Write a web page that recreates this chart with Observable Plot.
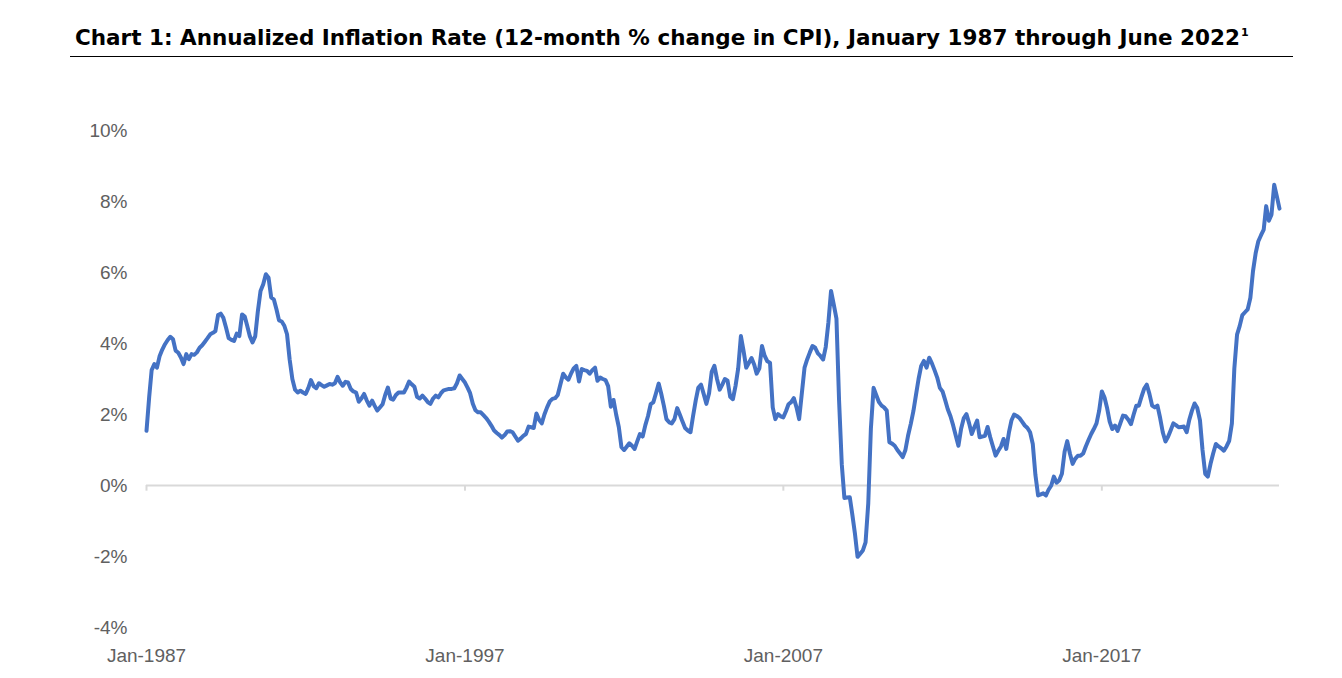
<!DOCTYPE html>
<html>
<head>
<meta charset="utf-8">
<script src="https://cdn.jsdelivr.net/npm/d3@7"></script>
<script src="https://cdn.jsdelivr.net/npm/@observablehq/plot@0.6"></script>
<style>
  html, body { margin: 0; padding: 0; background: #fff; }
  body { width: 1342px; height: 678px; position: relative; overflow: hidden; }
  #title {
    position: absolute; left: 75px; top: 25px;
    font-family: "DejaVu Sans", sans-serif; font-weight: bold;
    font-size: 21.5px; line-height: 26px; color: #000; white-space: nowrap;
  }
  #title sup { font-size: 11px; vertical-align: 0; position: relative; top: -9px; margin-left: 1px; }
  #rule { position: absolute; left: 70px; top: 56px; width: 1223px; height: 0; border-top: 1px solid #000; }
  #chart { position: absolute; left: 0; top: 60px; }
</style>
</head>
<body>
<div id="title">Chart 1: Annualized Inflation Rate (12-month % change in CPI), January 1987 through June 2022<sup>1</sup></div>
<div id="rule"></div>
<div id="chart"></div>
<script>
// First month of the series; one value per month after it
const startMonth = "1987-01-01";

// 12-month % change in CPI, monthly, one row per year (1987 onward)
const inflation = [
  1.54, 2.5, 3.25, 3.42, 3.32, 3.65, 3.83, 3.98, 4.1, 4.19, 4.12, 3.8,
  3.74, 3.6, 3.42, 3.7, 3.56, 3.7, 3.68, 3.75, 3.88, 3.95, 4.05, 4.15,
  4.26, 4.3, 4.35, 4.8, 4.84, 4.72, 4.45, 4.15, 4.1, 4.07, 4.28, 4.21,
  4.82, 4.76, 4.5, 4.2, 4.03, 4.2, 4.9, 5.48, 5.67, 5.95, 5.85, 5.3,
  5.24, 4.95, 4.65, 4.62, 4.5, 4.26, 3.55, 3.0, 2.7, 2.62, 2.67, 2.62,
  2.58, 2.75, 2.97, 2.8, 2.74, 2.88, 2.83, 2.78, 2.82, 2.86, 2.84, 2.88,
  3.06, 2.9, 2.81, 2.92, 2.9, 2.72, 2.65, 2.62, 2.36, 2.45, 2.58, 2.4,
  2.25, 2.39, 2.25, 2.11, 2.2, 2.29, 2.55, 2.76, 2.45, 2.42, 2.55, 2.62,
  2.62, 2.62, 2.75, 2.93, 2.85, 2.78, 2.5, 2.45, 2.53, 2.45, 2.35, 2.3,
  2.45, 2.53, 2.48, 2.6, 2.68, 2.7, 2.72, 2.72, 2.74, 2.88, 3.1, 3.0,
  2.9, 2.75, 2.6, 2.3, 2.12, 2.06, 2.06, 1.98, 1.9, 1.8, 1.68, 1.55,
  1.48, 1.42, 1.35, 1.42, 1.52, 1.53, 1.5, 1.38, 1.26, 1.32, 1.4, 1.45,
  1.66, 1.64, 1.62, 2.03, 1.85, 1.75, 2.0, 2.2, 2.37, 2.44, 2.46, 2.55,
  2.85, 3.15, 3.05, 2.98, 3.15, 3.3, 3.37, 2.93, 3.28, 3.25, 3.23, 3.15,
  3.25, 3.32, 2.95, 3.04, 3.0, 2.97, 2.8, 2.22, 2.41, 2.0, 1.64, 1.08,
  1.0, 1.1, 1.19, 1.12, 1.03, 1.25, 1.45, 1.38, 1.7, 1.95, 2.29, 2.34,
  2.6, 2.87, 2.6, 2.25, 1.87, 1.78, 1.75, 1.87, 2.18, 2.0, 1.8, 1.62,
  1.55, 1.5, 1.95, 2.4, 2.76, 2.84, 2.58, 2.3, 2.6, 3.2, 3.37, 3.0,
  2.7, 2.85, 3.0, 2.95, 2.5, 2.43, 2.8, 3.3, 4.21, 3.8, 3.32, 3.45,
  3.59, 3.4, 3.15, 3.3, 3.93, 3.65, 3.5, 3.46, 2.2, 1.87, 2.01, 1.95,
  1.92, 2.1, 2.29, 2.35, 2.46, 2.2, 1.87, 2.6, 3.32, 3.55, 3.75, 3.93,
  3.88, 3.72, 3.65, 3.55, 3.9, 4.6, 5.48, 5.1, 4.7, 2.4, 0.6, -0.35,
  -0.34, -0.33, -0.8, -1.35, -2.01, -1.92, -1.83, -1.6, -0.5, 1.6, 2.75, 2.55,
  2.35, 2.25, 2.2, 2.11, 1.22, 1.18, 1.12, 1.0, 0.9, 0.8, 1.0, 1.4,
  1.73, 2.1, 2.53, 3.0, 3.37, 3.51, 3.32, 3.6, 3.44, 3.25, 3.04, 2.75,
  2.65, 2.4, 2.15, 1.95, 1.7, 1.4, 1.12, 1.6, 1.9, 2.01, 1.75, 1.45,
  1.65, 1.83, 1.36, 1.38, 1.4, 1.65, 1.36, 1.1, 0.84, 0.98, 1.1, 1.31,
  1.03, 1.5, 1.83, 2.0, 1.96, 1.9, 1.8, 1.69, 1.62, 1.5, 1.17, 0.3,
  -0.28, -0.25, -0.22, -0.28, -0.12, 0.0, 0.25, 0.08, 0.15, 0.33, 0.95, 1.25,
  0.9, 0.61, 0.75, 0.84, 0.84, 0.9, 1.1, 1.28, 1.45, 1.59, 1.75, 2.1,
  2.65, 2.48, 2.2, 1.8, 1.59, 1.69, 1.54, 1.75, 1.97, 1.95, 1.85, 1.73,
  2.0, 2.25, 2.25, 2.5, 2.72, 2.84, 2.58, 2.25, 2.2, 2.25, 1.9, 1.5,
  1.24, 1.38, 1.55, 1.75, 1.7, 1.64, 1.65, 1.66, 1.5, 1.85, 2.11, 2.31,
  2.18, 1.83, 1.0, 0.33, 0.25, 0.61, 0.9, 1.17, 1.1, 1.05, 0.98, 1.1,
  1.26, 1.75, 3.3, 4.25, 4.49, 4.8, 4.88, 4.96, 5.29, 6.04, 6.55, 6.88,
  7.05, 7.21, 7.87, 7.46, 7.63, 8.47, 8.15, 7.8
];

// Axis ticks
const yTicks = [-4, -2, 0, 2, 4, 6, 8, 10];
const xTickLabels = ["1987-01-01", "1997-01-01", "2007-01-01", "2017-01-01"];

const start = new Date(startMonth);
const data = inflation.map((value, i) => ({ date: d3.utcMonth.offset(start, i), value }));
const xTicks = xTickLabels.map((s) => new Date(s));
const fmtMonth = d3.utcFormat("%b-%Y");

const chart = Plot.plot({
  width: 1342,
  height: 618,
  marginTop: 70,
  marginBottom: 51,
  marginLeft: 146,
  marginRight: 63,
  style: { fontFamily: "'Liberation Sans', Arial, sans-serif", fontSize: "19px", color: "#606060", background: "#fff" },
  x: { type: "utc", domain: [data[0].date, data[data.length - 1].date] },
  y: { domain: [-4, 10] },
  marks: [
    Plot.axisY({ ticks: yTicks, tickFormat: (d) => `${d}%`, tickSize: 0, tickPadding: 19, label: null }),
    Plot.axisX({ ticks: xTicks, tickFormat: fmtMonth, tickSize: 0, tickPadding: 21, label: null }),
    Plot.ruleY([0], { stroke: "#d9d9d9", strokeWidth: 2 }),
    Plot.ruleX(xTicks, { x: (d) => d, y1: 0, y2: -0.16, stroke: "#d9d9d9", strokeWidth: 2 }),
    Plot.line(data, { x: "date", y: "value", stroke: "#4472C4", strokeWidth: 4, strokeLinejoin: "round", strokeLinecap: "round" })
  ]
});
document.getElementById("chart").appendChild(chart);
</script>
</body>
</html>
